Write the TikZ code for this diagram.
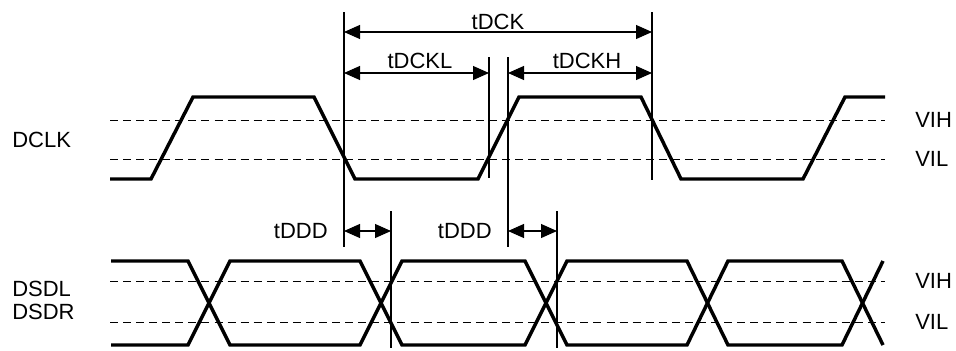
\documentclass[tikz,border=0pt]{standalone}
\usepackage{fontspec}
\setmainfont{Liberation Sans}
\usetikzlibrary{arrows.meta}
\usetikzlibrary{positioning}

\begin{document}
\begin{tikzpicture}[x=0.75pt, y=-0.75pt]
    \tikzstyle{signal}=[line width=2.6pt, line join=miter]
    \tikzstyle{level}=[line width=0.6pt, dash pattern=on 6pt off 3.8pt]
    \tikzstyle{marker}=[line width=0.8pt]
    \tikzstyle{span}=[line width=0.8pt,
      {Triangle[length=12pt, width=10.5pt]}-{Triangle[length=12pt, width=10.5pt]}]
    \tikzstyle{lbl}=[inner sep=0pt, font=\fontsize{16.5}{20}\selectfont]

    \useasboundingbox (0,0) rectangle (956,350);

    % DCLK
    \draw[level] (110,120) -- (885,120);
    \draw[level] (110,159) -- (885,159);
    \draw[signal] (110,179) -- (151,179) -- (193,97) -- (314,97) -- (355,179)
      -- (478,179) -- (519,97) -- (641,97) -- (681,179) -- (803,179)
      -- (845,97) -- (885,97);
    \node[lbl, anchor=west] (dclk) at (12,140) {DCLK};
    \node[lbl, anchor=west] (vih1) at (915,120) {VIH};
    \node[lbl, anchor=west] (vil1) at (915,159) {VIL};

    % DSDL / DSDR
    \draw[level] (110,281) -- (885,281);
    \draw[level] (110,322) -- (885,322);
    \draw[signal] (111,261) -- (188,261) -- (230,345) -- (360,345) -- (402,261)
      -- (525,261) -- (567,345) -- (687,345) -- (728,261) -- (842,261)
      -- (883,345);
    \draw[signal] (111,345) -- (188,345) -- (230,261) -- (360,261) -- (402,345)
      -- (525,345) -- (567,261) -- (687,261) -- (728,345) -- (842,345)
      -- (883,261);
    \node[lbl, anchor=west] (dsdl) at (12,289) {DSDL};
    \node[lbl, anchor=west] (dsdr) at (12,312) {DSDR};
    \node[lbl, anchor=west] (vih2) at (915,281) {VIH};
    \node[lbl, anchor=west] (vil2) at (915,322) {VIL};

    % Timing markers
    \draw[marker] (344,12) -- (344,247);
    \draw[marker] (489,57) -- (489,178);
    \draw[marker] (508,57) -- (508,247);
    \draw[marker] (652,12) -- (652,180);
    \draw[marker] (391,211) -- (391,348);
    \draw[marker] (557,211) -- (557,348);

    % Clock period and pulse widths
    \coordinate (ck1) at (344,32);
    \coordinate (ck2) at (652,32);
    \coordinate (lo1) at (344,73);
    \coordinate (lo2) at (489,73);
    \coordinate (hi1) at (508,73);
    \coordinate (hi2) at (652,73);
    \draw[span] (ck1) -- (ck2);
    \draw[span] (lo1) -- (lo2);
    \draw[span] (hi1) -- (hi2);
    \node[lbl, anchor=base] (tdck) at (498,29) {tDCK};
    \node[lbl, anchor=base] (tdckl) at (420,68) {tDCKL};
    \node[lbl, anchor=base] (tdckh) at (587,68) {tDCKH};

    % Data delay
    \coordinate (dd1) at (344,231);
    \coordinate (dd2) at (391,231);
    \coordinate (dd3) at (508,231);
    \coordinate (dd4) at (557,231);
    \draw[span] (dd1) -- (dd2);
    \draw[span] (dd3) -- (dd4);
    \node[lbl, left=16*0.75pt of dd1] (tddd1) {tDDD};
    \node[lbl, left=16*0.75pt of dd3] (tddd2) {tDDD};
  \end{tikzpicture}
\end{document}
